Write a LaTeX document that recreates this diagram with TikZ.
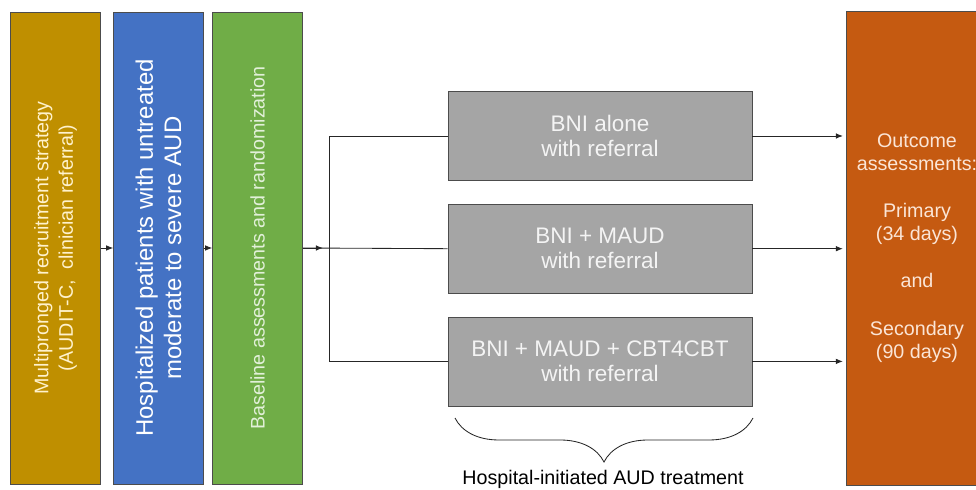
\documentclass[tikz,border=0pt]{standalone}
\usepackage{fontspec}
\setmainfont{Liberation Sans}
\usetikzlibrary{arrows.meta,positioning,decorations.pathreplacing,calc}
\definecolor{recruitgold}{HTML}{BF8F00}
\definecolor{patientblue}{HTML}{4472C4}
\definecolor{baselinegreen}{HTML}{70AD47}
\definecolor{armgray}{HTML}{A5A5A5}
\definecolor{outcomeorange}{HTML}{C55A11}
\definecolor{goldtext}{HTML}{FFF2CC}
\definecolor{greentext}{HTML}{E2F0D9}
\definecolor{armtext}{HTML}{F4F4F4}
\definecolor{orangetext}{HTML}{FBE5D6}

\begin{document}
\begin{tikzpicture}[
  stage/.style={draw=black!70, line width=0.5pt, inner sep=0pt},
  column/.style={stage, minimum width=2.25cm, minimum height=11.8cm},
  armbox/.style={stage, fill=armgray, minimum width=7.6cm, minimum height=2.225cm,
    text=armtext, align=center, font=\fontsize{16}{18}\selectfont},
  link/.style={draw=black!85, line width=0.6pt},
  arr/.style={link, -{Latex[length=5pt,width=4pt]}}]
  \useasboundingbox (0,0) rectangle (24.4,12.25);
  % three stage columns, text turned upright
  \node[column, fill=recruitgold] (recruit) at (1.3875,6.05) {};
  \node[rotate=90, align=center, text=goldtext, font=\fontsize{14}{17.5}\selectfont]
    (recruit-txt) at (recruit) {Multipronged recruitment strategy\\(AUDIT-C,\ \ clinician referral)};
  \node[column, fill=patientblue] (patients) at (3.9625,6.05) {};
  \node[rotate=90, align=center, text=white, font=\fontsize{17}{20}\selectfont]
    (patients-txt) at (patients) {Hospitalized patients with untreated\\moderate to severe AUD};
  \node[column, fill=baselinegreen] (baseline) at (6.4375,6.05) {};
  \node[rotate=90, align=center, text=greentext, font=\fontsize{14}{17}\selectfont]
    (baseline-txt) at (baseline) {Baseline assessments and randomization};
  \draw[arr] (recruit.east) -- (recruit.east -| patients.west);
  \draw[arr] (patients.east) -- (patients.east -| baseline.west);
  % treatment arms
  \node[armbox] (alone) at (15,8.85) {BNI alone\\with referral};
  \node[armbox, below=0.575cm of alone] (maud) {BNI + MAUD\\with referral};
  \node[armbox, below=0.575cm of maud] (cbt) {BNI + MAUD + CBT4CBT\\with referral};
  \coordinate (split) at (8.225,6.05);
  \draw[link] (baseline.east) -- (maud.west);
  \draw[arr] (baseline.east) -- ++(0.5,0);
  \draw[link] (alone.west) -| (split |- cbt.west) -- (cbt.west);
  % outcome column (runs off the right edge)
  \node[stage, fill=outcomeorange, minimum width=3.85cm, minimum height=11.85cm]
    (outcome) at (23.075,6.05) {};
  \node[align=center, text=orangetext, font=\fontsize{14}{16.5}\selectfont]
    (outcome-txt) at (22.925,6.05)
    {Outcome\\assessments:\\[17pt]Primary\\(34 days)\\[17pt]and\\[17pt]Secondary\\(90 days)};
  \foreach \arm in {alone,maud,cbt}
    \draw[arr, shorten >=2pt] (\arm.east) -- (\arm.east -| outcome.west);
  % brace under the arms
  \coordinate (brace-l) at (11.375,1.8);
  \coordinate (brace-r) at (18.825,1.8);
  \draw[link, decorate, decoration={brace, mirror, amplitude=1.1cm, aspect=0.5}]
    (brace-l) -- (brace-r);
  \node[anchor=base, font=\fontsize{14}{16}\selectfont] (arms-label) at (15.075,0.125)
    {Hospital-initiated AUD treatment};
\end{tikzpicture}
\end{document}
